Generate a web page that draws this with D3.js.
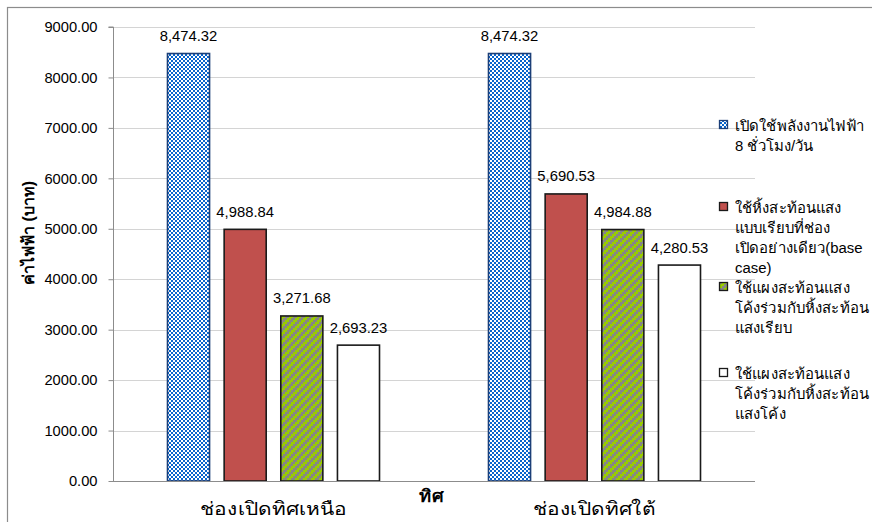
<!DOCTYPE html>
<html>
<head>
<meta charset="utf-8">
<script src="https://cdn.jsdelivr.net/npm/d3@7"></script>
<style>
  html, body { margin: 0; padding: 0; background: #fff; }
  svg { display: block; font-family: "Liberation Sans", Arial, sans-serif; }
</style>
</head>
<body>
<svg id="chart" width="872" height="522"></svg>
<script>
// Electricity cost by opening direction, four daylighting configurations
const categories = ["ช่องเปิดทิศเหนือ", "ช่องเปิดทิศใต้"];
const seriesNames = [
  ["เปิดใช้พลังงานไฟฟ้า", "8 ชั่วโมง/วัน"],
  ["ใช้หิ้งสะท้อนแสง", "แบบเรียบที่ช่อง", "เปิดอย่างเดียว(base", "case)"],
  ["ใช้แผงสะท้อนแสง", "โค้งร่วมกับหิ้งสะท้อน", "แสงเรียบ"],
  ["ใช้แผงสะท้อนแสง", "โค้งร่วมกับหิ้งสะท้อน", "แสงโค้ง"]
];
const seriesAllDay = [8474.32, 8474.32];
const seriesFlatShelf = [4988.84, 5690.53];
const seriesCurvedFlat = [3271.68, 4984.88];
const seriesCurvedCurved = [2693.23, 4280.53];
const yTicks = [0, 1000, 2000, 3000, 4000, 5000, 6000, 7000, 8000, 9000];
const yTitle = "ค่าไฟฟ้า (บาท)";
const xTitle = "ทิศ";

const seriesValues = [seriesAllDay, seriesFlatShelf, seriesCurvedFlat, seriesCurvedCurved];

const svg = d3.select("#chart");
const defs = svg.append("defs");

// blue / white small checkerboard
const checker = defs.append("pattern").attr("id", "checker")
  .attr("patternUnits", "userSpaceOnUse").attr("width", 4).attr("height", 4);
checker.append("rect").attr("width", 4).attr("height", 4).attr("fill", "#0864cc");
checker.append("rect").attr("x", 0).attr("y", 0).attr("width", 2).attr("height", 2).attr("fill", "#ffffff");
checker.append("rect").attr("x", 2).attr("y", 2).attr("width", 2).attr("height", 2).attr("fill", "#ffffff");

// green / grey stepped upward diagonal
const diag = defs.append("pattern").attr("id", "diag")
  .attr("patternUnits", "userSpaceOnUse").attr("width", 8).attr("height", 8);
diag.append("rect").attr("width", 8).attr("height", 8).attr("fill", "#99cc00");
for (let r = 0; r < 4; r++) {
  const yy = r * 2;
  const start = (8 - yy) % 8;
  for (let k = 0; k < 4; k += 2) {
    const xx = (start + k) % 8;
    diag.append("rect").attr("x", xx).attr("y", yy).attr("width", 2).attr("height", 2).attr("fill", "#868686");
  }
}

const fills = ["url(#checker)", "#c0504d", "url(#diag)", "#ffffff"];
const strokes = ["#1c3f78", "#1a1a1a", "#1a1a1a", "#1a1a1a"];

// outer chart frame
svg.append("rect").attr("x", 7.5).attr("y", 7.5).attr("width", 900).attr("height", 560)
  .attr("fill", "none").attr("stroke", "#8c8c8c").attr("stroke-width", 1.2);

const plot = { left: 113, right: 755, top: 27, bottom: 481 };

const y = d3.scaleLinear().domain([0, 9000]).range([plot.bottom, plot.top]);
const x0 = d3.scaleBand().domain(categories).range([plot.left, plot.right]).padding(0);
const x1 = d3.scaleBand().domain(d3.range(4))
  .range([54, x0.bandwidth() - 54]).paddingInner(0.24).paddingOuter(0);

// gridlines
svg.append("g").selectAll("line").data(yTicks.filter(d => d > 0)).join("line")
  .attr("x1", plot.left).attr("x2", plot.right)
  .attr("y1", d => Math.round(y(d)) + 0.5).attr("y2", d => Math.round(y(d)) + 0.5)
  .attr("stroke", "#d4d4d4").attr("stroke-width", 1);

// y axis
const yAxis = d3.axisLeft(y).tickValues(yTicks).tickFormat(d3.format(".2f")).tickSize(5).tickPadding(11);
const gy = svg.append("g").attr("transform", `translate(${plot.left + 0.5},0)`).call(yAxis);
gy.select(".domain").attr("stroke", "#8c8c8c").attr("d", `M-5,${plot.top}H0V${plot.bottom + 0.5}`);
gy.selectAll(".tick line").attr("stroke", "#8c8c8c");
gy.selectAll(".tick text").attr("font-size", 14.7).attr("fill", "#000")
  .attr("font-family", "'Liberation Sans', Arial, sans-serif");

// bars
const groups = svg.append("g").selectAll("g").data(categories).join("g")
  .attr("transform", d => `translate(${x0(d)},0)`);

groups.each(function (cat, ci) {
  const g = d3.select(this);
  seriesValues.forEach((vals, si) => {
    const v = vals[ci];
    g.append("rect")
      .attr("x", x1(si) + 0.5).attr("y", y(v))
      .attr("width", x1.bandwidth() - 1).attr("height", plot.bottom - y(v))
      .attr("fill", fills[si]).attr("stroke", strokes[si]).attr("stroke-width", 1.6);
    g.append("text")
      .attr("x", x1(si) + x1.bandwidth() / 2).attr("y", y(v) - 12.5)
      .attr("text-anchor", "middle").attr("font-size", 14.8).attr("fill", "#000")
      .text(d3.format(",.2f")(v));
  });
});

// x axis baseline
svg.append("line").attr("x1", plot.left).attr("x2", plot.right)
  .attr("y1", plot.bottom + 0.5).attr("y2", plot.bottom + 0.5)
  .attr("stroke", "#8c8c8c").attr("stroke-width", 1);

// Thai text is drawn slightly widened to suit the wide Thai face
function wideText(sel, x, y, size, sx, anchor) {
  return sel.append("text")
    .attr("transform", `translate(${x},${y}) scale(${sx},1)`)
    .attr("text-anchor", anchor || "start")
    .attr("font-size", size).attr("fill", "#000");
}

// category labels
categories.forEach(c => {
  wideText(svg, x0(c) + x0.bandwidth() / 2, 515, 18, 1.16, "middle").text(c);
});

// axis titles
wideText(svg, 431, 502, 17, 1.08, "middle").attr("font-weight", "bold").text(xTitle);
svg.append("text").attr("transform", "translate(34,233) rotate(-90)")
  .attr("text-anchor", "middle").attr("font-size", 16).attr("font-weight", "bold").text(yTitle);

// legend
const legendTop = [125, 207, 287, 373];
const lg = svg.append("g");
seriesNames.forEach((lines, si) => {
  const ly = legendTop[si];
  lg.append("rect").attr("x", 719.5).attr("y", ly - 4.5).attr("width", 8).attr("height", 8)
    .attr("fill", fills[si]).attr("stroke", si === 0 ? strokes[0] : "#1a1a1a").attr("stroke-width", 1.3);
  lines.forEach((t, li) => {
    wideText(lg, 735, ly + 5.5 + li * 20, 14.5, 1.03).text(t);
  });
});
</script>
</body>
</html>
